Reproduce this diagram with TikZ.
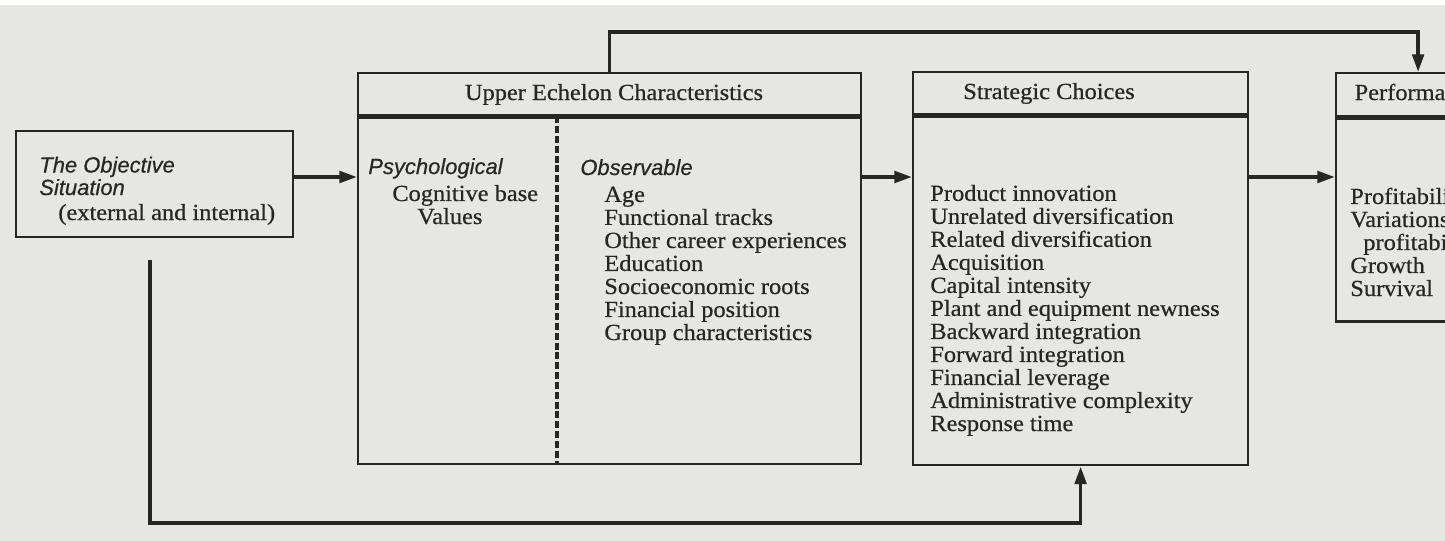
\documentclass[tikz,border=0pt]{standalone}
\usepackage{fontspec}
\setmainfont{Liberation Serif}[FakeStretch=1.06,FakeBold=0.6]
\setsansfont{Liberation Sans}[FakeBold=0.5]
\usetikzlibrary{arrows.meta}
\definecolor{paper}{HTML}{E6E6E4}
\definecolor{ink}{HTML}{262626}
\newcommand{\bodyfont}{\fontsize{13.1}{13.1}\selectfont}
\newcommand{\tagfont}{\fontsize{12.5}{12.8}\selectfont\sffamily\itshape}

\begin{document}
\begin{tikzpicture}[x=0.02cm,y=-0.02cm,font=\bodyfont,text=ink,
  panel/.style={draw=ink,line width=1.3pt,inner sep=0pt,anchor=north west},
  tag/.style={font=\tagfont,align=left,anchor=base west,inner sep=0pt},
  list/.style={align=left,anchor=base west,inner sep=0pt},
  title/.style={anchor=base,inner sep=0pt},
  link/.style={-{Triangle[length=10pt,width=6.5pt]},line width=2.1pt,draw=ink},
  divider/.style={draw=ink,line width=2pt,dash pattern=on 4pt off 1.6pt}]
\useasboundingbox (0,0) rectangle (1445,541);
\clip (0,0) rectangle (1445,541);
\fill[paper] (0,0) rectangle (1445,541);
\fill[white] (0,0) rectangle (1445,5);

\node[panel,minimum width=5.54cm,minimum height=2.12cm] (situation) at (15,130) {};
\node[panel,minimum width=10.06cm,minimum height=0.84cm] (upper head) at (357,72) {};
\node[panel,minimum width=10.06cm,minimum height=6.94cm] (upper body) at (upper head.south west) {};
\node[panel,minimum width=6.7cm,minimum height=0.84cm] (choice head) at (912,71) {};
\node[panel,minimum width=6.7cm,minimum height=6.98cm] (choice body) at (choice head.south west) {};
\node[panel,minimum width=3.28cm,minimum height=0.86cm] (perf head) at (1335,72) {};
\node[panel,minimum width=3.28cm,minimum height=4.06cm] (perf body) at (perf head.south west) {};

\coordinate (split) at (557,0);
\draw[divider] (split |- upper body.north) -- (split |- upper body.south);

\node[title] (upper title) at (614,100) {Upper Echelon Characteristics};
\node[title] (choice title) at (1049,99) {Strategic Choices};
\node[title] (perf title) at (1417,100) {Performance};

% multi-line nodes sit on the baseline of their last line
\node[tag] (situation name) at (39,195) {The Objective\\Situation};
\node[list] (situation scope) at (58,220) {(external and internal)};

\node[tag] (psych) at (368,174) {Psychological};
\node[list] (psych items) at (392,224) {Cognitive base\\\hspace*{0.5cm}Values};
\node[tag] (observ) at (580,175) {Observable};
\node[list] (observ items) at (604,340) {Age\\Functional tracks\\Other career experiences\\Education\\Socioeconomic roots\\Financial position\\Group characteristics};

\node[list] (choice items) at (930,431) {Product innovation\\Unrelated diversification\\Related diversification\\Acquisition\\Capital intensity\\Plant and equipment newness\\Backward integration\\Forward integration\\Financial leverage\\Administrative complexity\\Response time};

\node[list] (perf items) at (1350,296) {Profitability\\Variations in\\\hspace*{0.26cm}profitability\\Growth\\Survival};

\coordinate (row) at (0,177);
\draw[link] (situation.east |- row) -- (upper body.west |- row);
\draw[link] (upper body.east |- row) -- (choice body.west |- row);
\draw[link] (choice body.east |- row) -- (perf body.west |- row);
\draw[link] (upper head.north) -- ++(0,-40) -| (perf head.north);

\coordinate (sit tail) at (150,260);
\coordinate (loop) at (150,523);
\draw[link] (sit tail) -- (loop) -| (choice body.south);
\end{tikzpicture}
\end{document}
